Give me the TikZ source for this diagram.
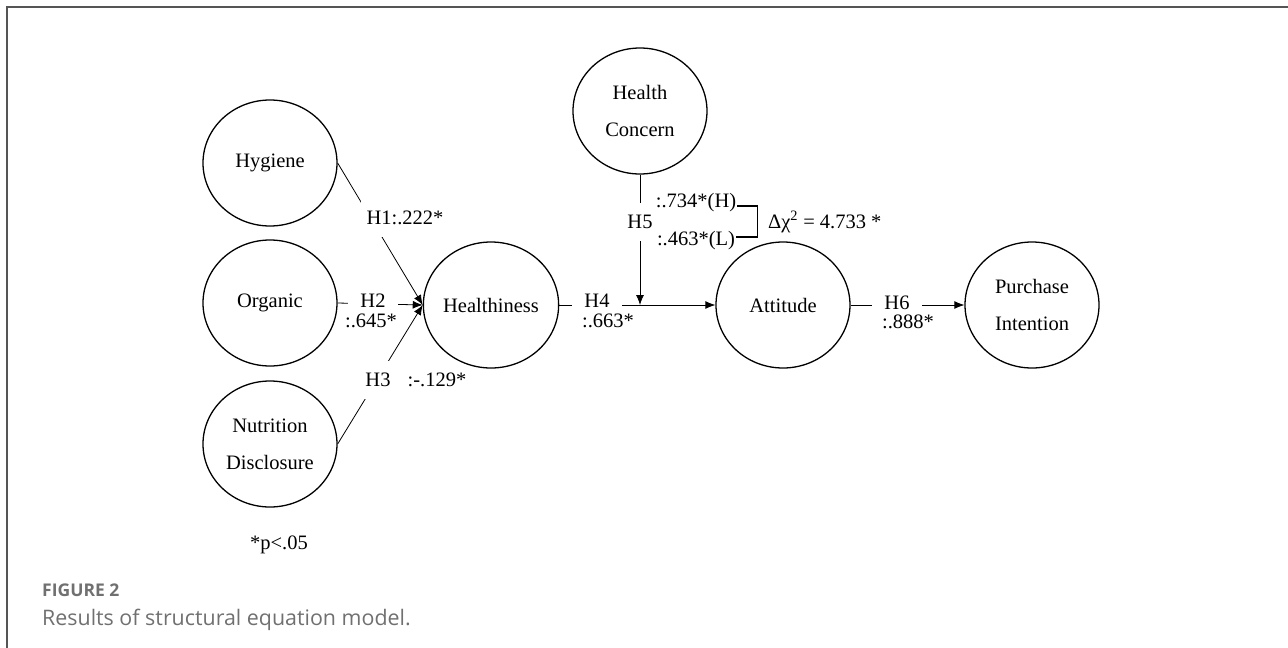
\documentclass[tikz,border=0pt]{standalone}
\usepackage{fontspec}
\setmainfont{Liberation Serif}
\newfontfamily\figcapfont{Open Sans}
\usetikzlibrary{calc, shapes.geometric, arrows.meta}
\definecolor{framegray}{HTML}{555555}
\definecolor{captiongray}{HTML}{707070}

\begin{document}
\begin{tikzpicture}[x=1pt, y=-1pt,
        construct/.style = {draw, ellipse, line width=1.3pt, minimum width=134pt, minimum height=126pt,
                            inner sep=0pt, align=center, font=\fontsize{20.5}{37}\selectfont},
        link/.style = {line width=0.8pt, -{Latex[length=10pt, width=8pt]}},
        hyp/.style = {fill=white, inner xsep=12pt, inner ysep=1pt, font=\fontsize{20.5}{24}\selectfont},
        hyptall/.style = {hyp, inner ysep=12pt},
        coef/.style = {inner sep=0pt, font=\fontsize{20.5}{24}\selectfont},
        captext/.style = {anchor=base west, inner sep=0pt, text=captiongray}]
            \useasboundingbox (0, 0) rectangle (1288, 648);
            \draw[framegray, line width=2pt] (1288, 7) -- (7, 7) -- (7, 648);

            % constructs
            \node[construct] (hygiene) at (270, 163) {Hygiene};
            \node[construct] (organic) at (270, 303) {Organic};
            \node[construct] (nutrition) at (270, 444) {Nutrition\\Disclosure};
            \node[construct] (healthiness) at (491, 305) {Healthiness};
            \node[construct] (concern) at (640, 111) {Health\\Concern};
            \node[construct] (attitude) at (783, 305) {Attitude};
            \node[construct] (purchase) at (1032, 305) {Purchase\\Intention};
            \coordinate (moderation) at (640, 305);

            % paths
            \draw[link] (hygiene.east) -- (healthiness.west);
            \draw[link] (organic.east) -- (healthiness.west);
            \draw[link] (nutrition.east) -- (healthiness.west);
            \draw[link] (healthiness.east) -- (attitude.west);
            \draw[link] (concern.south) -- (moderation);
            \draw[link] (attitude.east) -- (purchase.west);

            % hypotheses and estimates
            \node[hyptall, inner xsep=6pt] (h1) at (405, 218) {H1:.222*};
            \node[hyp] (h2) at (373, 301) {H2};
            \node[coef] (c2) at (371, 321) {:.645*};
            \node[hyptall, inner xsep=6pt] (h3) at (378, 380) {H3};
            \node[coef] (c3) at (437, 380) {:-.129*};
            \node[hyp] (h4) at (597, 301) {H4};
            \node[coef] (c4) at (608, 321) {:.663*};
            \node[hyptall, inner xsep=4pt] (h5) at (640, 222) {H5};
            \node[coef] (c5h) at (696, 203) {:.734*(H)};
            \node[coef] (c5l) at (696, 241) {:.463*(L)};
            \draw[line width=1.6pt] ($(c5h.east) + (1, 3)$) -- ++(20, 0) |- ($(c5l.east) + (1, -4)$);
            \node[coef, anchor=west] (chi) at (768, 222) {Δχ\textsuperscript{2} = 4.733 *};
            \node[hyp] (h6) at (897, 303) {H6};
            \node[coef] (c6) at (908, 322) {:.888*};

            \node[coef] (sig) at (279, 545) {*p<.05};

            % caption
            \node[captext] (fig) at (42, 596) {\figcapfont\bfseries\fontsize{17.5}{20}\selectfont FIGURE 2};
            \node[captext] (caption) at (42, 625) {\figcapfont\fontsize{21.4}{26}\selectfont Results of structural equation model.};
        \end{tikzpicture}
\end{document}
